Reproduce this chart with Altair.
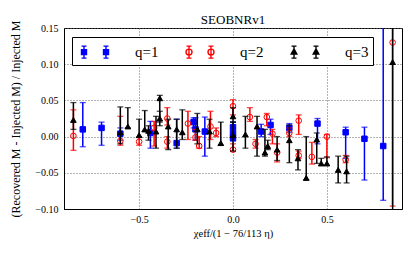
import altair as alt
import pandas as pd

labels = ["q=1", "q=2", "q=3"]

q1_x = [-0.80, -0.70, -0.60, -0.44, -0.30, -0.21, -0.20, -0.15, 0.0, 0.0, 0.0, 0.15, 0.20, 0.30, 0.45, 0.60, 0.70, 0.80]
q1_y = [0.010, 0.012, 0.004, 0.005, -0.009, 0.020, 0.010, 0.007, 0.013, 0.005, -0.002, 0.007, 0.016, 0.012, 0.018, 0.006, -0.003, -0.013]
q1_lo = [-0.014, -0.012, -0.005, -0.016, -0.016, 0.012, -0.005, -0.027, 0.005, -0.002, -0.006, 0.000, 0.003, 0.006, -0.010, -0.030, -0.060, -0.088]
q1_hi = [0.047, 0.020, 0.012, 0.021, 0.024, 0.026, 0.026, 0.027, 0.020, 0.012, 0.002, 0.017, 0.024, 0.018, 0.025, 0.013, 0.013, 0.200]

q2_x = [-0.85, -0.60, -0.50, -0.42, -0.35, -0.35, -0.24, -0.20, -0.18, -0.12, -0.09, 0.0, 0.0, 0.09, 0.12, 0.18, 0.21, 0.235, 0.30, 0.35, 0.35, 0.42, 0.50, 0.60, 0.85]
q2_y = [0.001, -0.006, -0.007, 0.012, 0.025, -0.007, 0.018, -0.001, -0.013, 0.014, 0.005, 0.042, -0.018, 0.027, -0.010, 0.027, 0.004, -0.022, 0.005, 0.022, -0.026, -0.028, 0.000, -0.032, 0.130]
q2_lo = [-0.019, -0.012, -0.012, -0.013, 0.016, -0.016, -0.004, -0.005, -0.016, -0.004, 0.000, 0.030, -0.020, 0.021, -0.016, 0.015, -0.010, -0.035, 0.000, 0.003, -0.030, -0.038, -0.029, -0.036, -0.096]
q2_hi = [0.037, 0.028, -0.001, 0.021, 0.040, 0.000, 0.035, 0.010, 0.000, 0.035, 0.012, 0.051, -0.010, 0.040, -0.004, 0.032, 0.010, -0.010, 0.012, 0.030, -0.020, -0.008, 0.003, -0.026, 0.200]

q3_x = [-0.85, -0.60, -0.56, -0.50, -0.47, -0.45, -0.41, -0.39, -0.39, -0.345, -0.30, -0.27, -0.19, -0.125, -0.065, 0.0, 0.0, 0.066, 0.128, 0.17, 0.185, 0.235, 0.30, 0.346, 0.39, 0.446, 0.47, 0.50, 0.56, 0.605, 0.85]
q3_y = [0.023, 0.006, 0.014, 0.002, 0.010, 0.008, 0.007, 0.053, 0.025, 0.014, 0.010, 0.006, 0.010, 0.007, -0.009, 0.028, 0.002, 0.003, 0.014, -0.022, -0.013, -0.018, -0.005, -0.030, -0.057, -0.004, -0.037, -0.037, -0.046, -0.048, 0.103]
q3_lo = [0.010, -0.010, 0.012, -0.001, 0.007, -0.005, -0.016, 0.020, 0.015, -0.018, -0.016, -0.004, -0.010, -0.016, -0.012, 0.020, -0.020, -0.016, -0.027, -0.027, -0.018, -0.033, -0.036, -0.046, -0.060, -0.037, -0.040, -0.040, -0.064, -0.064, -0.110]
q3_hi = [0.047, 0.041, 0.040, 0.024, 0.036, 0.015, 0.028, 0.057, 0.035, 0.024, 0.024, 0.037, 0.032, 0.024, 0.020, 0.040, 0.020, 0.028, 0.028, 0.010, -0.005, 0.000, 0.016, -0.018, 0.000, 0.005, -0.030, -0.028, -0.027, -0.027, 0.200]

frames = []
for lab, xs, ys, los, his in [
    (labels[0], q1_x, q1_y, q1_lo, q1_hi),
    (labels[1], q2_x, q2_y, q2_lo, q2_hi),
    (labels[2], q3_x, q3_y, q3_lo, q3_hi),
]:
    frames.append(pd.DataFrame({"x": xs, "y": ys, "lo": los, "hi": his, "q": lab}))
df = pd.concat(frames, ignore_index=True)

line_colors = ["#0000ff", "#ff0000", "#000000"]
fill_colors = ["#0000ff", "transparent", "#000000"]
FONT = "Liberation Serif"

xscale = alt.Scale(domain=[-0.9, 0.9], nice=False)
yscale = alt.Scale(domain=[-0.1, 0.15], nice=False)
fill_scale = alt.Scale(domain=labels, range=fill_colors)
stroke_scale = alt.Scale(domain=labels, range=line_colors)


def legend_path(kind):
    parts = []
    for c in (-0.3, 1.9):
        parts.append(f"M{c},-0.6V0.6M{c-0.25:.2f},-0.6H{c+0.25:.2f}M{c-0.25:.2f},0.6H{c+0.25:.2f}")
        if kind == "square":
            parts.append(f"M{c-0.25:.2f},-0.25H{c+0.25:.2f}V0.25H{c-0.25:.2f}Z")
        elif kind == "circle":
            parts.append(f"M{c+0.3:.2f},0A0.3,0.3 0 1,1 {c-0.3:.2f},0A0.3,0.3 0 1,1 {c+0.3:.2f},0Z")
        else:
            parts.append(f"M{c},-0.32L{c+0.28:.2f},0.2L{c-0.28:.2f},0.2Z")
    return "".join(parts)


shape_scale = alt.Scale(domain=labels, range=[legend_path("square"), legend_path("circle"), legend_path("triangle")])

x_axis = alt.Axis(
    values=[-0.5, 0.0, 0.5], format=".1f", title="χeff/(1 − 76/113 η)",
    grid=True, ticks=False, labelPadding=5, titlePadding=4)
y_axis = alt.Axis(
    values=[-0.1, -0.05, 0.0, 0.05, 0.1, 0.15], format=".2f",
    title="(Recovered M - Injected M) / Injected M",
    grid=True, ticks=False, labelPadding=6, titlePadding=12, titleFontSize=12)

base = alt.Chart(df)
layers = []
shapes = {"q=1": ("square", 30), "q=2": ("circle", 32), "q=3": ("triangle-up", 32)}
for i, lab in enumerate(labels):
    sub = base.transform_filter(alt.datum.q == lab)
    lc = line_colors[i]
    fc = fill_colors[i]
    rules = sub.mark_rule(strokeWidth=1.5, clip=True, color=lc).encode(
        x=alt.X("x:Q", scale=xscale, axis=x_axis),
        y=alt.Y("lo:Q", scale=yscale, axis=y_axis), y2="hi:Q")
    cap_lo = sub.mark_tick(orient="horizontal", size=6, thickness=1.3, clip=True, color=lc).encode(
        x=alt.X("x:Q", scale=xscale, axis=x_axis),
        y=alt.Y("lo:Q", scale=yscale, axis=y_axis))
    cap_hi = sub.mark_tick(orient="horizontal", size=6, thickness=1.3, clip=True, color=lc).encode(
        x=alt.X("x:Q", scale=xscale, axis=x_axis),
        y=alt.Y("hi:Q", scale=yscale, axis=y_axis))
    shp, sz = shapes[lab]
    pts = sub.mark_point(shape=shp, size=sz, strokeWidth=1, opacity=1, clip=True,
                         fill=fc, stroke=lc).encode(
        x=alt.X("x:Q", scale=xscale, axis=x_axis),
        y=alt.Y("y:Q", scale=yscale, axis=y_axis))
    layers += [rules, cap_lo, cap_hi, pts]

leg = alt.Legend(
    title=None, orient="none", legendX=8, legendY=9, direction="horizontal", columns=3,
    symbolSize=400, symbolStrokeWidth=1.4, labelOffset=37, columnPadding=22,
    padding=4, strokeColor="#000000", fillColor="#ffffff",
    labelFont=FONT, labelFontSize=15, labelColor="#000000")
legend_layer = base.transform_filter("false").mark_point(opacity=1).encode(
    shape=alt.Shape("q:N", scale=shape_scale, legend=leg),
    fill=alt.Fill("q:N", scale=fill_scale, legend=leg),
    stroke=alt.Stroke("q:N", scale=stroke_scale, legend=leg))
layers.append(legend_layer)

chart = alt.layer(*layers).properties(
    width=338, height=181,
    title=alt.Title("SEOBNRv1", font=FONT, fontSize=13, fontWeight="normal",
                    offset=4, dy=11),
    autosize=alt.AutoSizeParams(type="none"),
    padding={"left": 56, "top": 20, "right": 5, "bottom": 40},
).configure_view(stroke="#000000", strokeWidth=1).configure_axis(
    labelFont=FONT, labelFontSize=10, labelColor="#000000",
    titleFont=FONT, titleFontSize=10.5, titleFontWeight="normal", titleColor="#000000",
    gridColor="#666666", gridDash=[1, 2], gridOpacity=1, domainColor="#000000",
)

chart.save("out.html", embed_options={"renderer": "svg", "actions": False})
